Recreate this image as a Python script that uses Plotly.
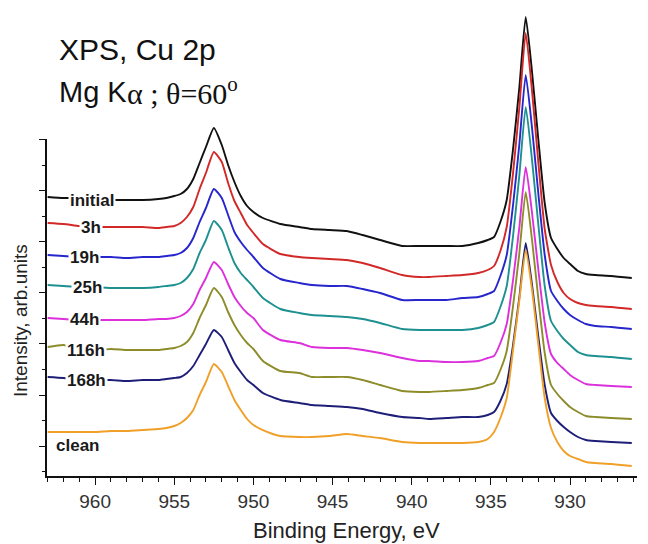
import plotly.graph_objects as go

# Binding energy grid (eV)
energy = [963, 962, 961, 960, 959, 958, 957, 956, 955.5, 955, 954.6, 954.2, 953.8, 953.4, 953.0,
          952.5, 952.0, 951.6, 951.2, 950.8, 950.4, 950.0, 949.4, 948.3, 947.1, 946.3, 945.2, 944.1,
          943.1, 942.0, 940.6, 939.5, 938.9, 937.8, 936.8, 935.8, 935.2, 934.8, 934.4, 934.0, 933.6,
          933.2, 932.8, 932.4, 932.0, 931.6, 931.2, 930.8, 930.4, 930.0, 929.5, 929.0, 928.4, 927.4, 926.1]

# Intensities (arb. units, already vertically offset as in the figure)
initial = [283, 282, 282, 281, 280, 280, 280, 281, 282, 284, 286, 291, 301, 317, 333, 352, 335, 315, 298,
           284, 274, 268, 262, 256, 253, 251, 250, 249, 245, 240, 234, 234, 234, 234, 234, 237, 240, 243,
           258, 280, 331, 393, 463, 408, 340, 277, 242, 231, 222, 216, 209, 206, 205, 204, 202]
h3 = [257, 256, 254, 253, 253, 253, 253, 252, 253, 254, 257, 263, 273, 291, 307, 328, 318, 297, 279,
      267, 255, 247, 236, 226, 223, 222, 221, 220, 217, 212, 205, 203, 203, 204, 205, 207, 210, 214,
      229, 253, 307, 373, 447, 389, 317, 251, 215, 198, 187, 181, 177, 175, 174, 173, 171]
h19 = [225, 224, 223, 223, 223, 222, 223, 223, 224, 225, 227, 232, 242, 258, 272, 291, 282, 265, 248,
       238, 230, 223, 212, 201, 197, 195, 194, 194, 191, 187, 180, 180, 180, 180, 182, 183, 186, 189,
       204, 225, 275, 336, 405, 352, 286, 225, 189, 179, 171, 165, 160, 156, 154, 153, 151]
h25 = [195, 194, 193, 193, 192, 192, 192, 193, 194, 195, 197, 202, 211, 227, 240, 259, 250, 233, 217,
       207, 200, 193, 182, 171, 167, 165, 164, 163, 161, 157, 151, 150, 150, 150, 150, 152, 155, 158,
       173, 194, 244, 305, 373, 320, 255, 194, 159, 149, 141, 135, 128, 125, 124, 123, 121]
h44 = [162, 161, 160, 160, 160, 160, 160, 161, 161, 162, 164, 168, 176, 190, 202, 218, 210, 196, 183,
       174, 167, 162, 150, 140, 137, 133, 132, 132, 130, 127, 122, 119, 119, 118, 118, 119, 122, 124,
       137, 156, 200, 253, 313, 267, 210, 157, 126, 117, 111, 105, 100, 96, 95, 94, 93]
h116 = [133, 135, 131, 130, 131, 130, 130, 130, 131, 132, 134, 138, 147, 162, 175, 192, 183, 168, 155,
        145, 137, 131, 119, 109, 107, 103, 103, 103, 100, 95, 89, 88, 88, 89, 90, 92, 95, 97,
        110, 129, 174, 227, 288, 240, 181, 127, 95, 86, 79, 73, 68, 64, 63, 62, 61]
h168 = [103, 102, 100, 100, 100, 99, 100, 100, 101, 102, 103, 107, 114, 125, 136, 150, 143, 130, 117,
        108, 100, 95, 87, 80, 77, 75, 74, 73, 71, 67, 63, 62, 61, 62, 63, 63, 65, 68,
        79, 96, 135, 183, 237, 195, 143, 95, 67, 59, 53, 48, 43, 40, 39, 38, 37]
clean = [48, 48, 48, 48, 49, 49, 50, 51, 52, 54, 57, 62, 70, 85, 98, 116, 108, 94, 80,
         70, 61, 55, 50, 44, 43, 43, 44, 46, 44, 42, 38, 37, 37, 37, 37, 38, 41, 48,
         62, 82, 130, 180, 230, 190, 135, 82, 52, 38, 29, 24, 21, 18, 17, 16, 14]

series = [initial, h3, h19, h25, h44, h116, h168, clean]
labels = ["initial", "3h", "19h", "25h", "44h", "116h", "168h", "clean"]
colors = ["#111111", "#d22828", "#2626cc", "#1e9090", "#dc30dc", "#8c8c2a", "#1e1e78", "#f0a028"]
# label anchor positions (energy, intensity)
label_x = [960.2, 960.26, 960.64, 960.5, 960.64, 960.57, 960.57, 961.14]
label_y = [280, 253, 223, 193, 161, 130, 100, 35]

x_ticks = [960, 955, 950, 945, 940, 935, 930]

for s in series:
    assert len(s) == len(energy)

fig = go.Figure()
for s, c, name in zip(series, colors, labels):
    # the lowest curve lives on the short, visible intensity axis (same scale) so that axis is drawn
    yax = "y2" if name == "clean" else "y"
    fig.add_trace(go.Scatter(x=energy, y=s, mode="lines", name=name, yaxis=yax,
                             line=dict(color=c, width=1.9, shape="spline", smoothing=0.5),
                             showlegend=False))

FONT = "Liberation Sans, Arial"
SERIF = "Liberation Serif, Times New Roman, serif"
for t, lx, ly in zip(labels, label_x, label_y):
    fig.add_annotation(x=lx, y=ly, xref="x", yref="y", text="<b>%s</b>" % t, showarrow=False,
                       font=dict(family=FONT, size=17, color="#1a1a1a"),
                       bgcolor="white", borderpad=1)

fig.add_annotation(x=0.017, y=0.912, xref="paper", yref="paper", xanchor="left", yanchor="middle",
                   text="XPS, Cu 2p", showarrow=False, font=dict(family=FONT, size=30, color="#111"))
fig.add_annotation(x=0.017, y=0.8205, xref="paper", yref="paper", xanchor="left", yanchor="middle",
                   text="Mg K", showarrow=False, font=dict(family=FONT, size=29, color="#111"))
fig.add_annotation(x=0.133, y=0.8235, xref="paper", yref="paper", xanchor="left", yanchor="middle",
                   text="α ; θ=60<sup>o</sup>", showarrow=False,
                   font=dict(family=SERIF, size=30, color="#111"))
fig.add_annotation(x=0.508, y=-0.1154, xref="paper", yref="paper", xanchor="center", yanchor="middle",
                   text="Binding Energy, eV", showarrow=False, font=dict(family=FONT, size=22, color="#222"))
fig.add_annotation(x=-0.046, y=0.333, xref="paper", yref="paper", xanchor="center", yanchor="middle",
                   text="Intensity, arb.units", textangle=-90, showarrow=False,
                   font=dict(family=FONT, size=19, color="#222"))

# page body adds an 8 px offset, so the figure is 8 px smaller than the window
fig.update_layout(
    width=640, height=536,
    margin=dict(l=39, r=11, t=0, b=68, autoexpand=False),
    paper_bgcolor="white", plot_bgcolor="rgba(0,0,0,0)",
    xaxis=dict(range=[963.04, 925.77], anchor="y2", showline=True, linecolor="#111", linewidth=1.5,
               ticks="outside", ticklen=7, tickwidth=1.3, tickcolor="#111",
               tickvals=x_ticks, ticktext=[str(v) for v in x_ticks],
               tickfont=dict(family=FONT, size=19, color="#333"),
               minor=dict(ticks="outside", ticklen=4, tickwidth=1.2, tickcolor="#111", dtick=1, tick0=960),
               showgrid=False, zeroline=False),
    yaxis=dict(range=[4, 472], domain=[0, 1], anchor="x", visible=False, showgrid=False, zeroline=False),
    yaxis2=dict(anchor="x", domain=[0, 0.7201], range=[4, 341], showline=True, linecolor="#111",
                linewidth=1.5, ticks="outside", ticklen=6, tickwidth=1.3, tickcolor="#111",
                tick0=34, dtick=51, showticklabels=False, showgrid=False, zeroline=False,
                minor=dict(ticks="outside", ticklen=3, tickwidth=1.2, tickcolor="#111", tick0=8.5, dtick=25.5)),
)

fig.write_html("out.html")
